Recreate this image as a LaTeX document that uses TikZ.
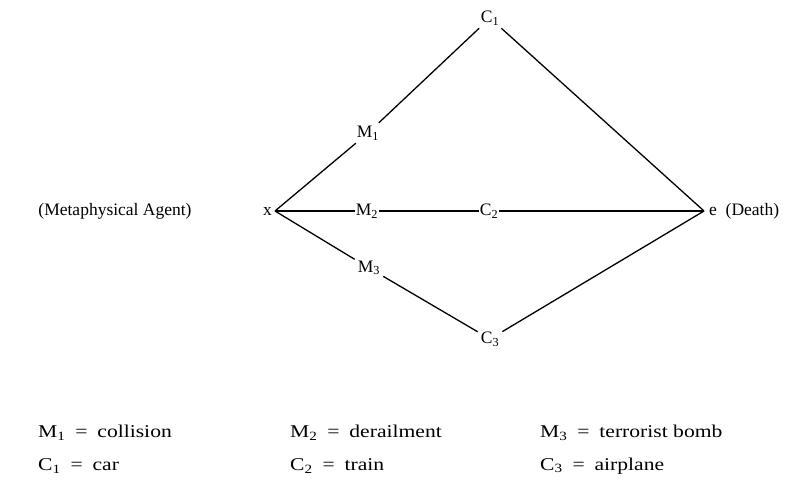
\documentclass[tikz,border=0pt]{standalone}
\usepackage{fontspec}
\setmainfont{Liberation Serif}
\newfontfamily\legendfont[FakeStretch=1.2]{Liberation Serif}
\newcommand{\eqsep}{\hspace{0.55em}=\hspace{0.55em}}
\begin{document}
\begin{tikzpicture}[x=1pt,y=-1pt,
  lbl/.style={inner sep=3pt,font=\fontsize{17.5}{20}\selectfont},
  txt/.style={inner sep=0pt,font=\fontsize{17.5}{20}\selectfont},
  key/.style={inner sep=0pt,anchor=west,font=\legendfont\fontsize{18}{21}\selectfont},
  edge/.style={line width=1.3pt}]
\useasboundingbox (0,0) rectangle (811,485);
\coordinate (X) at (275,211);
\coordinate (E) at (704,211);
\node[txt,anchor=east] (xl) at (272,211) {x};
\node[txt,anchor=west] (el) at (709,211) {e\ \ (Death)};
\node[txt] (agent) at (115,211) {(Metaphysical Agent)};
\node[lbl] (M1) at (368,133) {M\textsubscript{1}};
\node[lbl] (C1) at (490,18) {C\textsubscript{1}};
\node[lbl,inner sep=1pt] (M2) at (367,211) {M\textsubscript{2}};
\node[lbl,inner sep=1pt] (C2) at (489,211) {C\textsubscript{2}};
\node[lbl] (M3) at (369,268) {M\textsubscript{3}};
\node[lbl] (C3) at (490,339) {C\textsubscript{3}};
\draw[edge] (X) -- (M1);
\draw[edge] (M1) -- (C1);
\draw[edge] (C1) -- (E);
\draw[edge] (X) -- (M2);
\draw[edge] (M2) -- (C2);
\draw[edge] (C2) -- (E);
\draw[edge] (X) -- (M3);
\draw[edge] (M3) -- (C3);
\draw[edge] (C3) -- (E);
\node[key] (k1) at (38,433) {M\textsubscript{1}\eqsep collision};
\node[key] (k2) at (290,433) {M\textsubscript{2}\eqsep derailment};
\node[key] (k3) at (540,433) {M\textsubscript{3}\eqsep terrorist bomb};
\node[key] (k4) at (38,466) {C\textsubscript{1}\eqsep car};
\node[key] (k5) at (290,466) {C\textsubscript{2}\eqsep train};
\node[key] (k6) at (540,466) {C\textsubscript{3}\eqsep airplane};
\end{tikzpicture}
\end{document}
